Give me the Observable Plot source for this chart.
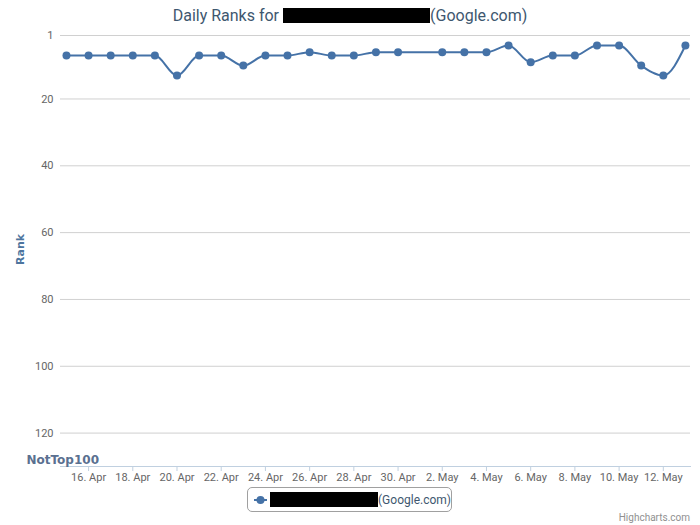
<!DOCTYPE html>
<html>
<head>
<meta charset="utf-8">
<script src="https://cdn.jsdelivr.net/npm/d3@7"></script>
<script src="https://cdn.jsdelivr.net/npm/@observablehq/plot@0.6"></script>
<style>
  html, body { margin: 0; padding: 0; background: #fff; }
  #wrap { position: relative; width: 700px; height: 525px; font-family: Roboto, "Liberation Sans", sans-serif; }
  #title { position: absolute; top: 6px; left: 0; width: 700px; text-align: center; font-size: 16px; color: #3E576F; white-space: nowrap; }
  .redact { display: inline-block; background: #000; vertical-align: -2px; }
  #legend { position: absolute; left: 247px; top: 487px; width: 205px; height: 25px; border: 1px solid #a0a0a0; border-radius: 5px; box-sizing: border-box; display: flex; align-items: center; font-size: 12px; color: #3E576F; }
  #credits { position: absolute; right: 10px; bottom: 2px; font-size: 10px; color: #909090; }
</style>
</head>
<body>
<div id="wrap">
  <div id="chart"></div>
  <div id="title">Daily Ranks for <span class="redact" style="width:147px;height:15px"></span>(Google.com)</div>
  <div id="legend">
    <svg width="17" height="12" style="margin-left:5px"><line x1="1" x2="14" y1="6" y2="6" stroke="#4572A7" stroke-width="2"/><circle cx="7.5" cy="6" r="4" fill="#4572A7"/></svg>
    <span class="redact" style="width:110px;height:15px;vertical-align:0"></span><span id="legendText">(Google.com)</span>
  </div>
  <div id="credits">Highcharts.com</div>
</div>
<script>
// Data (1 May has no point)
const dates = [
  "2013-04-15","2013-04-16","2013-04-17","2013-04-18","2013-04-19","2013-04-20",
  "2013-04-21","2013-04-22","2013-04-23","2013-04-24","2013-04-25","2013-04-26",
  "2013-04-27","2013-04-28","2013-04-29","2013-04-30",
  "2013-05-02","2013-05-03","2013-05-04","2013-05-05","2013-05-06","2013-05-07",
  "2013-05-08","2013-05-09","2013-05-10","2013-05-11","2013-05-12","2013-05-13"
];
const ranks = [
  7, 7, 7, 7, 7, 13,
  7, 7, 10, 7, 7, 6,
  7, 7, 6, 6,
  6, 6, 6, 4, 9, 7,
  7, 4, 4, 10, 13, 4
];
const yTicks = [1, 20, 40, 60, 80, 100, 120];
const xTickDates = ["2013-04-16","2013-04-18","2013-04-20","2013-04-22","2013-04-24","2013-04-26",
  "2013-04-28","2013-04-30","2013-05-02","2013-05-04","2013-05-06","2013-05-08","2013-05-10","2013-05-12"];
const notTopLabel = "NotTop100";
const notTopValue = 128;
const yAxisTitle = "Rank";

const parse = d3.utcParse("%Y-%m-%d");
const data = dates.map((d, i) => ({date: parse(d), rank: ranks[i]}));
const xTicks = xTickDates.map(parse);
const DAY = 864e5;
const xDomain = [new Date(parse(dates[0]) - 0.27 * DAY), new Date(+parse(dates[dates.length - 1]) + 0.23 * DAY)];

const color = "#4572A7";
const chart = Plot.plot({
  width: 700,
  height: 525,
  marginLeft: 60,
  marginRight: 10,
  marginTop: 35,
  marginBottom: 59,
  style: {fontFamily: "Roboto, 'Liberation Sans', sans-serif", fontSize: "11px", background: "transparent"},
  x: {type: "utc", domain: xDomain},
  y: {domain: [1, 130], reverse: true},
  marks: [
    Plot.gridY(yTicks, {stroke: "#C0C0C0", strokeOpacity: 0.75}),
    Plot.axisY(yTicks, {tickSize: 0, tickPadding: 7, fill: "#666", fontSize: 11, label: null}),
    Plot.frame({anchor: "bottom", stroke: "#C0D0E0", strokeWidth: 1}),
    Plot.axisX(xTicks, {tickSize: 5, tickPadding: 2, stroke: "#C0D0E0", fill: "#666", fontSize: 11,
      tickFormat: d3.utcFormat("%-d. %b"), label: null}),
    Plot.line(data, {x: "date", y: "rank", curve: "monotone-x", stroke: color, strokeWidth: 2}),
    Plot.dot(data, {x: "date", y: "rank", r: 4, fill: color, stroke: null}),
    Plot.text([notTopLabel], {y: [notTopValue], frameAnchor: "left", dx: -34, textAnchor: "start",
      fontWeight: "bold", fontSize: 12, fill: "#5a7090", fontFamily: "'DejaVu Sans', sans-serif", letterSpacing: "0.5px"}),
    Plot.text([yAxisTitle], {frameAnchor: "left", dx: -40, dy: 14, rotate: -90, fontWeight: "bold", fontSize: 11,
      fill: "#4d759e", fontFamily: "'DejaVu Sans', sans-serif", letterSpacing: "1.5px"})
  ]
});
document.getElementById("chart").appendChild(chart);
</script>
</body>
</html>
